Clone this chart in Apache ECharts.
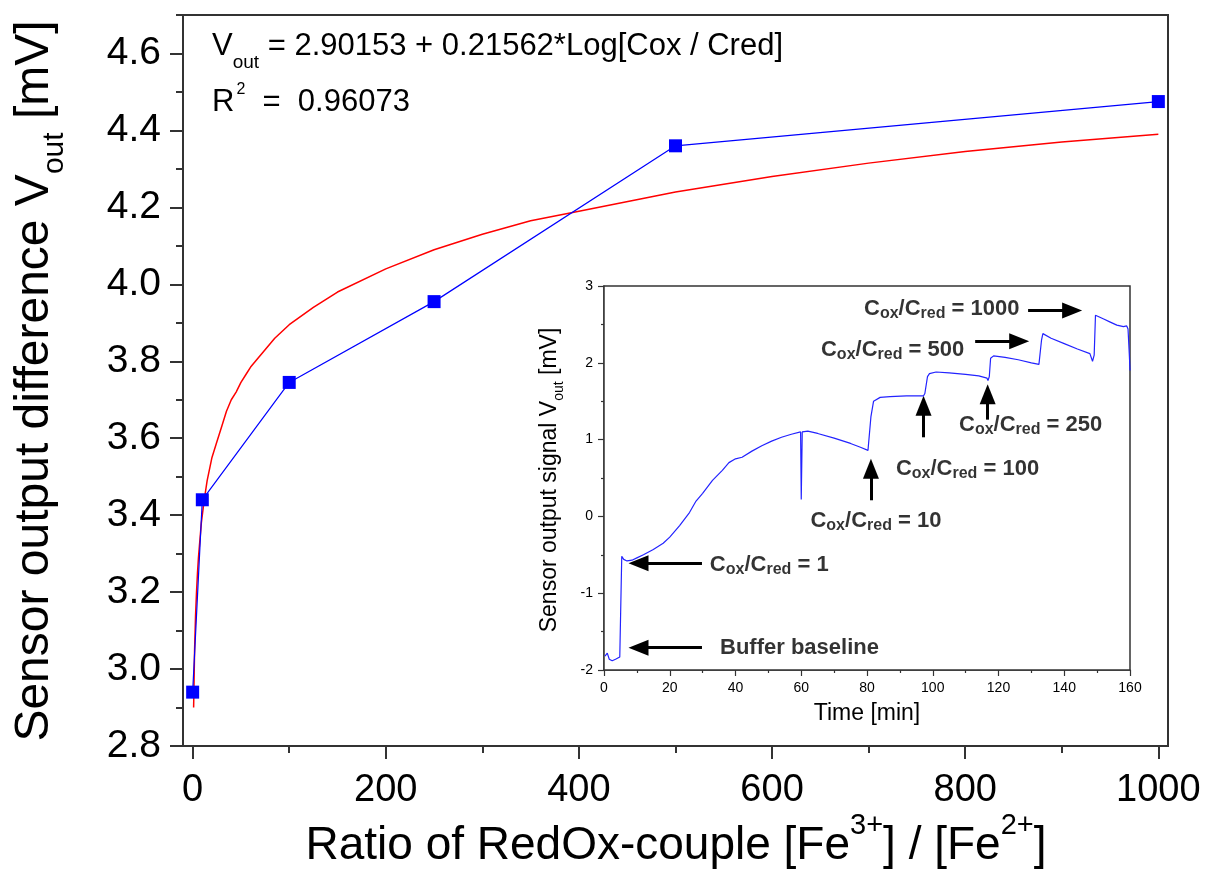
<!DOCTYPE html>
<html>
<head>
<meta charset="utf-8">
<script src="https://cdn.jsdelivr.net/npm/echarts@6/dist/echarts.min.js"></script>
<style>
  html, body { margin: 0; padding: 0; background: #fff; }
  #chart { width: 1212px; height: 875px; }
</style>
</head>
<body>
<div id="chart"></div>
<script>
// main plot: measured points
var ratio = [0, 10, 100, 250, 500, 1000];
var vout = [2.94, 3.44, 3.745, 3.955, 4.36, 4.475];

// red fit curve
var fitRatio = [1, 2, 3, 4, 5, 6, 7, 8, 9, 10, 12, 15, 20, 25, 30, 35, 40, 45, 50, 55, 60, 65, 75, 85, 100, 125, 150, 200, 250, 300, 350, 400, 500, 600, 700, 800, 900, 1000];
var fitVout = [2.90, 3.05, 3.14, 3.20, 3.25, 3.29, 3.32, 3.35, 3.38, 3.40, 3.44, 3.49, 3.55, 3.59, 3.63, 3.67, 3.70, 3.72, 3.745, 3.765, 3.785, 3.80, 3.83, 3.86, 3.895, 3.94, 3.98, 4.04, 4.09, 4.13, 4.165, 4.19, 4.24, 4.28, 4.315, 4.345, 4.37, 4.39];

// main axis ticks
var xMajor = [0, 200, 400, 600, 800, 1000];
var xMinor = [100, 300, 500, 700, 900];
var yMajor = [2.8, 3.0, 3.2, 3.4, 3.6, 3.8, 4.0, 4.2, 4.4, 4.6];
var yMinor = [2.9, 3.1, 3.3, 3.5, 3.7, 3.9, 4.1, 4.3, 4.5, 4.7];

// inset: sensor signal over time
var timeMin = [0.3, 1.0, 1.6, 2.5, 3.5, 4.8, 5.2, 5.4, 6.0, 7.0, 8.5, 10, 12, 15, 18, 20, 23, 26, 28, 30, 33, 36, 38, 40, 42, 45, 48, 51, 54, 57, 59.8, 60, 60.3, 62, 65, 70, 75, 78, 80.3, 80.7, 81.2, 82, 84, 87, 92, 97.2, 97.6, 98.4, 99, 101, 105, 110, 114, 116.5, 116.8, 117.2, 117.6, 118.5, 122, 126, 130, 132.3, 132.6, 133.1, 133.5, 136, 140, 144, 147.8, 148.6, 149.1, 149.5, 150.5, 152, 154, 156, 158, 159, 159.4, 159.8, 160];
var signal = [-1.82, -1.78, -1.86, -1.88, -1.86, -1.83, -1.82, -0.52, -0.56, -0.58, -0.57, -0.54, -0.50, -0.43, -0.35, -0.27, -0.12, 0.05, 0.20, 0.30, 0.47, 0.60, 0.70, 0.75, 0.77, 0.85, 0.92, 0.98, 1.03, 1.07, 1.10, 0.22, 1.10, 1.11, 1.08, 1.02, 0.95, 0.90, 0.86, 0.88, 1.30, 1.50, 1.55, 1.56, 1.57, 1.57, 1.60, 1.82, 1.86, 1.88, 1.87, 1.85, 1.83, 1.80, 1.77, 1.82, 2.06, 2.09, 2.07, 2.04, 2.00, 1.98, 2.00, 2.30, 2.38, 2.32, 2.25, 2.18, 2.12, 2.02, 2.10, 2.62, 2.60, 2.57, 2.53, 2.49, 2.47, 2.48, 2.44, 2.10, 1.90];

// inset annotations (text start point, in time / mV)
var noteT = [79.1, 66.0, 108.0, 88.8, 62.8, 32.2, 35.3];
var noteV = [2.70, 2.17, 1.19, 0.62, -0.06, -0.63, -1.71];
var noteText = ['1000', '500', '250', '100', '10', '1', 'Buffer baseline'];

// inset arrows: tail -> head (time / mV)
var arrowFrom = [[129.0, 2.68], [112.9, 2.28], [116.7, 1.26], [97.2, 1.03], [81.2, 0.21], [29.8, -0.61], [29.8, -1.71]];
var arrowTo = [[142.4, 2.68], [126.3, 2.28], [116.7, 1.59], [97.2, 1.44], [81.2, 0.62], [10.5, -0.61], [10.5, -1.71]];

var FONT = "'Liberation Sans', Arial, sans-serif";
var NARROW = "'Liberation Sans Narrow', 'Arial Narrow', 'Liberation Sans', sans-serif";

function zip(a, b) {
  return a.map(function (v, i) { return [v, b[i]]; });
}

var chart = echarts.init(document.getElementById('chart'));

var option = {
  animation: false,
  backgroundColor: '#fff',
  grid: [
    { left: 183, top: 15, width: 985, height: 731, show: true, borderColor: '#333', borderWidth: 2, backgroundColor: 'transparent' },
    { left: 604, top: 286, width: 526, height: 384, show: true, borderColor: '#333', borderWidth: 1.5, backgroundColor: '#fff', z: 3 }
  ],
  xAxis: [
    {
      gridIndex: 0, type: 'value', min: -10, max: 1010,
      axisLine: { onZero: false, lineStyle: { color: '#333', width: 2 } },
      axisTick: { length: 13, customValues: xMajor, lineStyle: { color: '#333', width: 2 } },
      axisLabel: {
        customValues: xMajor, fontSize: 38, fontFamily: FONT, color: '#000', margin: 26,
        formatter: function (v) { return String(v); }
      },
      splitLine: { show: false }
    },
    {
      gridIndex: 0, type: 'value', min: -10, max: 1010, position: 'bottom',
      axisLine: { show: false, onZero: false },
      axisTick: { length: 7, customValues: xMinor, lineStyle: { color: '#333', width: 2 } },
      axisLabel: { show: false },
      splitLine: { show: false }
    },
    {
      gridIndex: 1, type: 'value', min: 0, max: 160, interval: 20,
      axisLine: { onZero: false, lineStyle: { color: '#333', width: 1.5 } },
      axisTick: { length: 6, lineStyle: { color: '#333', width: 1.2 } },
      minorTick: { show: true, splitNumber: 2, length: 3, lineStyle: { color: '#333', width: 1.2 } },
      axisLabel: { fontSize: 14, fontFamily: FONT, color: '#000', margin: 11 },
      splitLine: { show: false }
    }
  ],
  yAxis: [
    {
      gridIndex: 0, type: 'value', min: 2.8, max: 4.7,
      axisLine: { onZero: false, lineStyle: { color: '#333', width: 2 } },
      axisTick: { length: 13, customValues: yMajor, lineStyle: { color: '#333', width: 2 } },
      axisLabel: {
        customValues: yMajor, fontSize: 39, fontFamily: FONT, color: '#000', margin: 22,
        formatter: function (v) { return v.toFixed(1); }
      },
      splitLine: { show: false }
    },
    {
      gridIndex: 0, type: 'value', min: 2.8, max: 4.7, position: 'left',
      axisLine: { show: false, onZero: false },
      axisTick: { length: 7, customValues: yMinor, lineStyle: { color: '#333', width: 2 } },
      axisLabel: { show: false },
      splitLine: { show: false }
    },
    {
      gridIndex: 1, type: 'value', min: -2, max: 3, interval: 1,
      axisLine: { onZero: false, lineStyle: { color: '#333', width: 1.5 } },
      axisTick: { length: 6, lineStyle: { color: '#333', width: 1.2 } },
      minorTick: { show: true, splitNumber: 2, length: 3, lineStyle: { color: '#333', width: 1.2 } },
      axisLabel: { fontSize: 14, fontFamily: FONT, color: '#000', margin: 11 },
      splitLine: { show: false }
    }
  ],
  series: [
    {
      name: 'fit', type: 'line', xAxisIndex: 0, yAxisIndex: 0,
      data: zip(fitRatio, fitVout), showSymbol: false,
      lineStyle: { color: '#ff0000', width: 1.5 }, z: 2
    },
    {
      name: 'measured', type: 'line', xAxisIndex: 0, yAxisIndex: 0,
      data: zip(ratio, vout), symbol: 'rect', symbolSize: 13,
      itemStyle: { color: '#0000ff' }, lineStyle: { color: '#0000ff', width: 1.2 }, z: 3
    },
    {
      name: 'signal', type: 'line', xAxisIndex: 2, yAxisIndex: 2,
      data: zip(timeMin, signal), showSymbol: false,
      lineStyle: { color: '#2323ff', width: 1.2 }, z: 5,
      markLine: {
        silent: true, symbol: ['none', 'triangle'], symbolSize: [16, 20],
        lineStyle: { color: '#000', width: 3, type: 'solid' },
        label: { show: false },
        data: arrowFrom.map(function (p, i) {
          return [{ coord: p }, { coord: arrowTo[i] }];
        })
      }
    },
    {
      name: 'notes', type: 'scatter', xAxisIndex: 2, yAxisIndex: 2,
      symbolSize: 0, z: 6, silent: true,
      data: noteT.map(function (t, i) { return { value: [t, noteV[i]], name: noteText[i] }; }),
      label: {
        show: true, position: 'right', distance: 0,
        formatter: function (p) {
          if (p.name === 'Buffer baseline') return '{b|Buffer baseline}';
          return '{b|C}{s|ox}{b|/C}{s|red}{b| = ' + p.name + '}';
        },
        rich: {
          b: { fontFamily: NARROW, fontWeight: 'bold', fontSize: 22, lineHeight: 22, color: '#000', verticalAlign: 'top' },
          s: { fontFamily: NARROW, fontWeight: 'bold', fontSize: 16, lineHeight: 16, color: '#000', verticalAlign: 'top', padding: [8, 0, 0, 0] }
        }
      }
    }
  ],
  graphic: [
    {
      type: 'text', x: 35, y: 381, rotation: Math.PI / 2,
      style: {
        text: '{m|Sensor output difference V}{s|out}{m| [mV]}',
        align: 'center', verticalAlign: 'middle',
        rich: {
          m: { fontFamily: FONT, fontSize: 48, lineHeight: 48, fill: '#000', verticalAlign: 'top' },
          s: { fontFamily: FONT, fontSize: 30, lineHeight: 30, fill: '#000', verticalAlign: 'top', padding: [29, 0, 0, 0] }
        }
      }
    },
    {
      type: 'text', x: 676, y: 834,
      style: {
        text: '{m|Ratio of RedOx-couple [Fe}{p|3+}{m|] / [Fe}{p|2+}{m|]}',
        align: 'center', verticalAlign: 'middle',
        rich: {
          m: { fontFamily: FONT, fontSize: 46, lineHeight: 46, fill: '#000', verticalAlign: 'top', padding: [12, 0, 0, 0] },
          p: { fontFamily: FONT, fontSize: 29, lineHeight: 29, fill: '#000', verticalAlign: 'top' }
        }
      }
    },
    {
      type: 'text', x: 212, y: 31,
      style: {
        text: '{m|V}{s|out}{m| = 2.90153 + 0.21562*Log[Cox / Cred]}',
        align: 'left', verticalAlign: 'top',
        rich: {
          m: { fontFamily: FONT, fontSize: 31, lineHeight: 31, fill: '#000', verticalAlign: 'top' },
          s: { fontFamily: FONT, fontSize: 19, lineHeight: 19, fill: '#000', verticalAlign: 'top', padding: [22, 0, 0, 0] }
        }
      }
    },
    {
      type: 'text', x: 212, y: 82,
      style: {
        text: '{m|R}{p|2}{m|  =  0.96073}',
        align: 'left', verticalAlign: 'top',
        rich: {
          m: { fontFamily: FONT, fontSize: 31, lineHeight: 31, fill: '#000', verticalAlign: 'top', padding: [5, 0, 0, 0] },
          p: { fontFamily: FONT, fontSize: 16, lineHeight: 16, fill: '#000', verticalAlign: 'top', padding: [0, 0, 0, 2] }
        }
      }
    },
    {
      type: 'text', x: 550, y: 480, rotation: Math.PI / 2,
      style: {
        text: '{m|Sensor output signal V}{s|out}{m| [mV]}',
        align: 'center', verticalAlign: 'middle',
        rich: {
          m: { fontFamily: FONT, fontSize: 23, lineHeight: 23, fill: '#000', verticalAlign: 'top' },
          s: { fontFamily: FONT, fontSize: 14, lineHeight: 14, fill: '#000', verticalAlign: 'top', padding: [14, 0, 0, 0] }
        }
      }
    },
    {
      type: 'text', x: 867, y: 714,
      style: { text: 'Time [min]', font: '23px ' + FONT, fill: '#000', align: 'center', verticalAlign: 'middle' }
    }
  ]
};

chart.setOption(option);
</script>
</body>
</html>
